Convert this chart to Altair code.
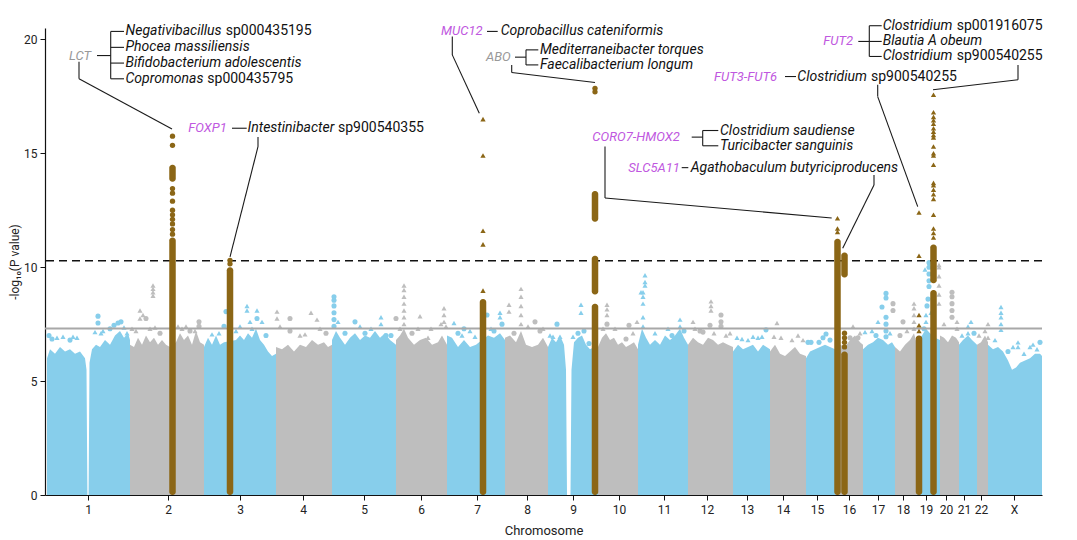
import altair as alt
import pandas as pd

# ---------------- data ----------------
CHROMS = ["1", "2", "3", "4", "5", "6", "7", "8", "9", "10", "11", "12",
          "13", "14", "15", "16", "17", "18", "19", "20", "21", "22", "X"]
# chromosome centre positions (cumulative genome position units)
TICK_POS = [88, 168, 240, 303, 364, 421, 477, 527, 573, 619, 664, 707,
            747, 783, 817, 849, 878, 903, 926, 946, 964, 981, 1014]

# upper edge of the dense cloud of SNPs per chromosome: (position, -log10 P)
bulk_1 = [(47, 6.0), (50, 6.4), (55, 6.2), (60, 6.5), (65, 6.3), (70, 6.4), (75, 6.2), (80, 6.3), (85, 6.0),
          (86.5, 5.5), (87.4, 0), (88.6, 0), (89.5, 5.8), (92, 6.4), (96, 6.6), (100, 6.5), (105, 6.8),
          (110, 6.6), (115, 7.0), (120, 7.2), (124, 6.9), (128, 7.1), (130, 6.8)]
bulk_2 = [(130, 6.6), (134, 6.5), (138, 6.9), (142, 6.6), (146, 7.0), (150, 6.7), (154, 6.9), (158, 6.6),
          (162, 6.8), (166, 6.6), (170, 6.5), (176, 6.7), (180, 7.1), (184, 6.8), (188, 7.0), (192, 6.6),
          (196, 7.2), (200, 6.7), (204, 6.6)]
bulk_3 = [(204, 6.5), (208, 6.9), (212, 6.6), (216, 7.0), (220, 6.6), (224, 6.7), (236, 6.8), (240, 7.0),
          (244, 6.8), (248, 7.1), (252, 6.9), (256, 7.3), (260, 6.8), (264, 6.6), (268, 6.3), (272, 6.1), (276, 6.2)]
bulk_4 = [(276, 6.5), (282, 6.4), (288, 6.6), (294, 6.3), (300, 6.6), (306, 6.5), (312, 6.8), (318, 6.6),
          (324, 6.7), (328, 6.5), (332, 6.6)]
bulk_5 = [(332, 6.8), (336, 7.2), (340, 6.9), (345, 6.6), (350, 6.9), (355, 7.1), (360, 6.8), (365, 7.0),
          (370, 6.9), (375, 7.2), (380, 6.9), (385, 7.1), (390, 6.8), (396, 6.6)]
bulk_6 = [(396, 6.8), (400, 7.0), (404, 7.3), (408, 6.9), (414, 6.6), (420, 6.8), (426, 6.9), (432, 6.6),
          (438, 6.7), (442, 7.0), (447, 6.6)]
bulk_7 = [(447, 7.0), (452, 6.9), (458, 6.5), (464, 6.8), (470, 6.5), (476, 6.6), (482, 6.8), (488, 7.0),
          (494, 6.9), (500, 7.1), (505, 6.8)]
bulk_8 = [(505, 6.9), (510, 7.0), (516, 6.7), (521, 7.2), (526, 6.6), (532, 6.5), (538, 6.6), (543, 6.9), (548, 6.5)]
bulk_9 = [(548, 6.5), (552, 6.9), (556, 6.7), (560, 7.0), (564, 6.6), (566, 5.5), (567, 0), (570.5, 0),
          (571.5, 5.5), (574, 6.7), (578, 6.9), (582, 7.0), (586, 6.6), (590, 6.4), (594, 6.5), (598, 6.5)]
bulk_10 = [(598, 6.5), (602, 6.9), (606, 7.1), (610, 6.8), (614, 6.9), (618, 6.6), (622, 6.7), (626, 6.5),
           (630, 6.6), (634, 6.7), (638, 6.4)]
bulk_11 = [(638, 6.6), (642, 7.3), (646, 6.9), (650, 6.6), (655, 6.8), (660, 6.6), (665, 7.0), (670, 6.8),
           (675, 7.0), (680, 7.3), (684, 6.9), (688, 6.6)]
bulk_12 = [(688, 6.6), (693, 6.9), (698, 6.7), (703, 6.6), (708, 6.9), (713, 6.8), (718, 6.6), (723, 6.7),
           (728, 6.6), (733, 6.5)]
bulk_13 = [(733, 6.3), (738, 6.6), (743, 6.4), (748, 6.5), (753, 6.6), (758, 6.3), (763, 6.6), (770, 6.4)]
bulk_14 = [(770, 6.3), (775, 6.6), (780, 6.2), (785, 6.1), (790, 6.3), (795, 6.5), (800, 6.2), (806, 6.1)]
bulk_15 = [(806, 6.0), (810, 6.3), (815, 6.4), (820, 6.5), (825, 6.6), (830, 6.5), (835, 6.4)]
bulk_16 = [(835, 6.5), (840, 6.6), (845, 6.5), (850, 6.8), (855, 7.0), (860, 6.7), (863, 6.6)]
bulk_17 = [(863, 6.4), (868, 6.6), (873, 6.7), (878, 6.9), (883, 6.8), (888, 6.6), (892, 6.7), (895, 6.5)]
bulk_18 = [(895, 6.5), (900, 6.3), (905, 6.6), (910, 6.8), (914, 7.1), (917, 6.6)]
bulk_19 = [(917, 6.8), (922, 7.0), (926, 7.3), (930, 7.1), (935, 6.9), (940, 6.8)]
bulk_20 = [(940, 7.0), (944, 6.9), (948, 6.7), (952, 7.0), (956, 6.9), (959, 6.7)]
bulk_21 = [(959, 6.6), (963, 6.8), (968, 7.0), (972, 6.8), (977, 6.6)]
bulk_22 = [(977, 6.6), (981, 6.7), (985, 7.0), (988, 6.7)]
bulk_X = [(988, 6.6), (993, 6.4), (998, 6.5), (1003, 6.3), (1008, 5.9), (1012, 5.5), (1016, 5.6), (1020, 5.8),
          (1025, 5.9), (1030, 6.0), (1035, 6.2), (1040, 6.2), (1042, 6.1)]
BULK = [bulk_1, bulk_2, bulk_3, bulk_4, bulk_5, bulk_6, bulk_7, bulk_8, bulk_9, bulk_10, bulk_11, bulk_12,
        bulk_13, bulk_14, bulk_15, bulk_16, bulk_17, bulk_18, bulk_19, bulk_20, bulk_21, bulk_22, bulk_X]

# individual SNPs above the dense cloud: (position, -log10 P, shape c=circle t=triangle)
pts_1 = [(49, 7.0, "c"), (52, 6.85, "c"), (57, 6.9, "t"), (63, 6.95, "t"), (70, 6.8, "c"), (73, 6.95, "t"),
         (77, 6.9, "t"), (95, 7.15, "t"), (98, 7.55, "c"), (98, 7.85, "c"), (101, 7.1, "t"), (103, 7.2, "t"),
         (110, 7.3, "c"), (114, 7.45, "c"), (118, 7.55, "c"), (121, 7.6, "c"), (124, 7.35, "t"), (127, 7.1, "t")]
pts_2 = [(132, 7.3, "t"), (136, 7.2, "t"), (140, 7.75, "t"), (140, 8.1, "t"), (143, 7.9, "t"), (146, 7.75, "c"),
         (150, 7.3, "t"), (153, 8.75, "t"), (153, 8.9, "t"), (153, 9.05, "t"), (153, 9.2, "t"), (155, 7.35, "t"),
         (160, 7.1, "c"), (178, 7.4, "t"), (182, 7.3, "t"), (186, 7.4, "t"), (190, 7.2, "c"), (199, 7.4, "c"),
         (199, 7.6, "c"), (195, 7.2, "t")]
pts_3 = [(212, 7.05, "t"), (219, 7.1, "t"), (224, 7.4, "c"), (226, 8.05, "c"), (236, 7.2, "t"), (240, 7.4, "t"),
         (247, 8.1, "t"), (247, 8.3, "t"), (250, 7.6, "t"), (252, 7.3, "t"), (257, 7.75, "c"), (257, 8.1, "t"),
         (262, 7.6, "t"), (266, 7.0, "c")]
pts_4 = [(277, 7.75, "t"), (277, 8.05, "t"), (280, 7.4, "t"), (290, 7.2, "c"), (290, 7.75, "c"), (300, 7.0, "t"),
         (305, 7.05, "t"), (311, 8.0, "t"), (317, 7.7, "t"), (320, 7.3, "t"), (326, 7.1, "c")]
pts_5 = [(334, 7.4, "c"), (334, 7.7, "c"), (334, 8.0, "c"), (334, 8.3, "c"), (334, 8.55, "c"), (334, 8.7, "c"),
         (338, 7.6, "t"), (345, 7.1, "c"), (355, 7.6, "c"), (360, 7.4, "t"), (365, 7.1, "c"), (371, 7.3, "t"),
         (381, 7.8, "t"), (381, 7.5, "t"), (386, 7.0, "c"), (391, 7.0, "c")]
pts_6 = [(396, 7.75, "c"), (400, 7.3, "t"), (404, 7.5, "t"), (404, 7.8, "t"), (404, 8.1, "t"), (404, 8.4, "t"),
         (404, 8.7, "t"), (404, 9.0, "t"), (404, 9.2, "t"), (412, 7.1, "c"), (418, 7.3, "t"), (420, 7.85, "t"),
         (428, 6.9, "t"), (431, 7.3, "t"), (441, 7.5, "t"), (444, 7.6, "t"), (444, 7.9, "t"), (444, 8.2, "t"),
         (446, 7.4, "t")]
pts_7 = [(454, 7.55, "t"), (458, 7.1, "c"), (462, 7.0, "t"), (464, 7.3, "c"), (470, 7.2, "t"), (475, 6.95, "t"),
         (487, 7.9, "c"), (491, 7.3, "t"), (494, 7.2, "c"), (500, 7.8, "t"), (500, 8.0, "t"), (502, 7.5, "c")]
pts_8 = [(509, 8.05, "t"), (509, 8.35, "t"), (514, 7.1, "c"), (521, 7.5, "t"), (521, 7.9, "t"), (521, 8.3, "t"),
         (521, 8.7, "t"), (521, 9.05, "t"), (528, 7.4, "t"), (535, 7.6, "c"), (540, 7.2, "c"), (543, 7.3, "t")]
pts_9 = [(550, 7.0, "t"), (553, 6.95, "t"), (557, 7.5, "c"), (560, 6.95, "t"), (573, 6.95, "t"), (578, 7.1, "c"),
         (581, 8.0, "t"), (581, 8.35, "t"), (584, 7.2, "c"), (589, 6.65, "c")]
pts_10 = [(603, 7.3, "t"), (607, 7.5, "c"), (607, 7.9, "t"), (607, 8.15, "t"), (607, 8.35, "t"), (615, 7.3, "t"),
          (626, 6.85, "c"), (629, 7.45, "c"), (633, 7.1, "t"), (637, 7.6, "t")]
pts_11 = [(643, 7.4, "t"), (643, 7.8, "t"), (643, 8.4, "t"), (643, 8.7, "t"), (643, 8.9, "t"), (645, 9.2, "t"),
          (645, 9.35, "t"), (645, 9.65, "t"), (641, 8.9, "t"), (655, 7.1, "t"), (668, 7.3, "t"), (672, 7.0, "c"),
          (680, 7.4, "t"), (680, 7.7, "t"), (684, 7.2, "c")]
pts_12 = [(693, 7.6, "t"), (695, 7.3, "t"), (700, 7.2, "c"), (703, 7.15, "c"), (710, 7.45, "c"), (711, 8.1, "t"),
          (711, 8.3, "t"), (711, 8.5, "t"), (714, 7.1, "t"), (721, 7.4, "c"), (721, 7.6, "c"), (721, 7.9, "c"),
          (726, 7.0, "t"), (730, 7.1, "t")]
pts_13 = [(737, 6.9, "t"), (742, 6.85, "t"), (748, 6.8, "t"), (753, 6.95, "t"), (758, 6.9, "t"), (762, 6.95, "t"),
          (766, 7.25, "c")]
pts_14 = [(774, 6.95, "t"), (777, 7.55, "t"), (781, 6.9, "t"), (792, 6.8, "t"), (798, 7.0, "t"), (803, 6.8, "t")]
pts_15 = [(808, 6.7, "c"), (811, 6.7, "c"), (819, 6.7, "c"), (823, 6.9, "c"), (826, 7.07, "c"), (830, 6.8, "c")]
pts_16 = [(850, 6.9, "c"), (853, 7.4, "t"), (858, 6.9, "c"), (860, 7.1, "t")]
pts_17 = [(865, 7.15, "t"), (872, 7.2, "t"), (876, 7.0, "c"), (878, 7.6, "t"), (882, 8.25, "c"), (886, 6.95, "c"),
          (886, 7.2, "c"), (886, 7.5, "c"), (886, 7.8, "c"), (886, 8.65, "c"), (886, 8.85, "c"), (890, 7.1, "t")]
pts_18 = [(893, 8.1, "c"), (893, 8.4, "c"), (900, 7.0, "c"), (903, 7.6, "c"), (907, 7.2, "t"), (914, 7.3, "t"),
          (914, 7.6, "t"), (914, 7.9, "t"), (914, 8.2, "t"), (914, 8.4, "t")]
pts_19 = [(924, 7.3, "c"), (926, 7.6, "t"), (926, 7.9, "t"), (927, 8.3, "c"), (928, 8.6, "c"), (929, 9.15, "c"),
          (929, 9.4, "c"), (929, 9.7, "c"), (929, 10.0, "c"), (929, 10.2, "c"), (925, 9.9, "t"), (931, 8.0, "t")]
pts_20 = [(939, 8.4, "t"), (939, 8.8, "t"), (939, 9.2, "t"), (939, 9.6, "t"), (939, 10.0, "t"), (939, 10.1, "t"),
          (944, 7.5, "t"), (952, 7.8, "c"), (952, 8.1, "c"), (952, 8.4, "c"), (952, 8.7, "c"), (952, 8.9, "c"),
          (957, 7.3, "t"), (957, 7.6, "t")]
pts_21 = [(962, 7.0, "t"), (968, 7.1, "t"), (968, 7.4, "t"), (971, 7.6, "t"), (974, 7.1, "c")]
pts_22 = [(979, 7.0, "t"), (985, 7.2, "t"), (988, 7.5, "t"), (988, 6.9, "t")]
pts_X = [(1001, 7.25, "t"), (1001, 7.5, "t"), (1001, 7.8, "t"), (1001, 8.0, "t"), (1001, 8.25, "t"), (995, 6.8, "t"),
         (1008, 6.3, "c"), (1013, 6.5, "t"), (1018, 6.7, "t"), (1018, 6.5, "t"), (1024, 6.2, "t"), (1030, 6.5, "t"),
         (1033, 6.6, "t"), (1037, 6.4, "t"), (1040, 6.7, "c")]
PTS = [pts_1, pts_2, pts_3, pts_4, pts_5, pts_6, pts_7, pts_8, pts_9, pts_10, pts_11, pts_12,
       pts_13, pts_14, pts_15, pts_16, pts_17, pts_18, pts_19, pts_20, pts_21, pts_22, pts_X]

# associated loci (brown): dense runs of SNPs (centre, low, high) and separate SNPs
locus_runs = [(172.5, 0, 11.3), (172.5, 13.75, 14.5),
              (230, 0, 10.0),
              (483, 0, 8.6),
              (595, 0, 8.4), (595, 8.8, 10.5), (595, 12.0, 13.35),
              (837.5, 0, 11.25),
              (844.5, 0, 6.3), (844.5, 9.55, 10.65),
              (919, 0, 7.0),
              (933.5, 0, 9.0), (933.5, 9.3, 11.0)]
locus_lct = [(172.5, v, "c") for v in [15.75, 15.35, 13.45, 13.25, 12.9, 12.5, 12.3, 12.1, 11.9, 11.65, 11.45]]
locus_foxp1 = [(230, v, "c") for v in [10.3, 10.15]]
locus_muc12 = [(483, v, "t") for v in [16.5, 14.9, 11.6, 11.0, 8.97]]
locus_abo = [(595, v, "c") for v in [17.85, 17.7]]
locus_coro7 = [(837.5, v, "t") for v in [12.15, 11.7, 11.55]]
locus_slc5a11 = [(844.5, v, "c") for v in [7.1, 6.9, 6.7, 6.5]]
locus_fut3 = [(919, v, "t") for v in [12.4, 10.5, 7.9, 7.45, 7.2]]
locus_fut2 = [(933.5, v, "t") for v in [17.57, 16.8, 16.6, 16.45, 16.3, 16.1, 15.95, 15.8, 15.7, 15.3, 15.0,
                                       14.9, 14.5, 13.7, 13.6, 13.4, 13.2, 13.0, 12.3, 11.7, 11.5, 11.3]]

SUGGESTIVE = 7.31   # genome-wide significance
STUDY_WIDE = 10.28  # study-wide significance

# gene labels: (position, -log10 P, text, colour key)
ann_genes = [
    (69, 19.29, "LCT", "g"),
    (188.3, 16.10, "FOXP1", "p"),
    (441, 20.35, "MUC12", "p"),
    (486, 19.22, "ABO", "g"),
    (823.3, 19.91, "FUT2", "p"),
    (714, 18.37, "FUT3-FUT6", "p"),
    (592.3, 15.71, "CORO7-HMOX2", "p"),
    (628.3, 14.37, "SLC5A11", "p"),
]
# taxon names, italic part: (position, -log10 P, text)
ann_taxa = [
    (125.5, 20.35, "Negativibacillus"),
    (125.5, 19.65, "Phocea massiliensis"),
    (125.5, 18.96, "Bifidobacterium adolescentis"),
    (125.5, 18.27, "Copromonas"),
    (247.5, 16.10, "Intestinibacter"),
    (500.7, 20.35, "Coprobacillus cateniformis"),
    (540, 19.54, "Mediterraneibacter torques"),
    (540, 18.88, "Faecalibacterium longum"),
    (882.7, 20.60, "Clostridium"),
    (882.7, 19.91, "Blautia A obeum"),
    (882.7, 19.25, "Clostridium"),
    (797.3, 18.37, "Clostridium"),
    (720, 16.00, "Clostridium saudiense"),
    (720, 15.33, "Turicibacter sanguinis"),
    (690.7, 14.37, "Agathobaculum butyriciproducens"),
]
# taxon names, upright part
ann_upright = [
    (225.7, 20.35, "sp000435195"),
    (207.3, 18.27, "sp000435795"),
    (338, 16.10, "sp900540355"),
    (956.7, 20.60, "sp001916075"),
    (956.7, 19.25, "sp900540255"),
    (871, 18.37, "sp900540255"),
]
# connector segments: (x1, y1, x2, y2)
connectors = [
    # LCT
    (97, 19.29, 110.7, 19.29), (110.7, 20.35, 110.7, 18.27),
    (110.7, 20.35, 124, 20.35), (110.7, 19.65, 124, 19.65), (110.7, 18.96, 124, 18.96), (110.7, 18.27, 124, 18.27),
    (79, 19.02, 79, 18.27), (79, 18.27, 172, 16.07),
    # FOXP1
    (232, 16.10, 246.7, 16.10), (258, 15.72, 258, 15.29), (258, 15.29, 230, 10.45),
    # MUC12
    (487, 20.35, 497.7, 20.35), (452.3, 20.13, 452.3, 19.32), (452.3, 19.32, 479.3, 16.76),
    # ABO
    (515, 19.22, 526, 19.22), (526, 19.54, 526, 18.88), (526, 19.54, 538.3, 19.54), (526, 18.88, 538.3, 18.88),
    (511.7, 18.88, 511.7, 18.55), (511.7, 18.55, 595, 18.11),
    # FUT2
    (858.3, 19.91, 869.3, 19.91), (869.3, 20.60, 869.3, 19.25), (869.3, 20.60, 881.7, 20.60),
    (869.3, 19.91, 881.7, 19.91), (869.3, 19.25, 881.7, 19.25),
    (1018, 18.88, 1018, 18.23), (1018, 18.23, 933, 17.79),
    # FUT3-FUT6
    (785, 18.37, 796, 18.37), (877.7, 18.01, 877.7, 17.49), (877.7, 17.49, 917.7, 12.66),
    # CORO7-HMOX2
    (691.7, 15.71, 702.7, 15.71), (702.7, 16.00, 702.7, 15.33), (702.7, 16.00, 718.3, 16.00),
    (702.7, 15.33, 718.3, 15.33), (605, 15.30, 605, 13.04), (605, 13.04, 831.7, 12.16),
    # SLC5A11
    (681.7, 14.37, 688.3, 14.37), (874, 14.05, 874, 13.61), (874, 13.61, 842.7, 10.83),
]

# ---------------- styling ----------------
BLUE = "#87CEEB"
GREY = "#BEBEBE"
BROWN = "#8B6616"
PURPLE = "#C058E0"
TEXT_COLS = {"k": "#111111", "g": "#999999", "p": PURPLE}
FONT = "Roboto"
TAXON_SIZE = 14
GENE_SIZE = 13

bulk_rows, pt_rows = [], []
for i, c in enumerate(CHROMS):
    col = BLUE if i % 2 == 0 else GREY
    for p, v in BULK[i]:
        bulk_rows.append(dict(chrom=c, pos=p, val=v, col=col))
    for p, v, s in PTS[i]:
        pt_rows.append(dict(chrom=c, pos=p, val=v, shape=s, col=col))
bulk_df = pd.DataFrame(bulk_rows)
pt_df = pd.DataFrame(pt_rows)

RUN_HALF = 3.25
runs_df = pd.DataFrame([dict(x1=c - RUN_HALF, x2=c + RUN_HALF, lo=lo, hi=hi) for c, lo, hi in locus_runs])
brown_pts = locus_lct + locus_foxp1 + locus_muc12 + locus_abo + locus_coro7 + locus_slc5a11 + locus_fut3 + locus_fut2
brown_df = pd.DataFrame([dict(pos=p, val=v, shape=s) for p, v, s in brown_pts])

gene_df = pd.DataFrame([dict(pos=p, val=v, text=t, col=TEXT_COLS[k]) for p, v, t, k in ann_genes])
taxa_df = pd.DataFrame([dict(pos=p, val=v, text=t) for p, v, t in ann_taxa])
up_df = pd.DataFrame([dict(pos=p, val=v, text=t) for p, v, t in ann_upright])
seg_df = pd.DataFrame([dict(x1=a, y1=b, x2=c, y2=d) for a, b, c, d in connectors])

label_expr = ("[" + ",".join(f"'{c}'" for c in CHROMS) + "][indexof(["
              + ",".join(str(p) for p in TICK_POS) + "], datum.value)]")

xs = alt.Scale(domain=[45, 1042], nice=False, zero=False)
ys = alt.Scale(domain=[0, 20.5], nice=False, zero=True)
x_axis = alt.Axis(values=TICK_POS, labelExpr=label_expr, title="Chromosome", grid=False,
                  tickSize=5, labelPadding=4, titlePadding=9)
y_axis = alt.Axis(values=[0, 5, 10, 15, 20], title="-log\u2081\u2080(P value)", grid=False,
                  tickSize=5, labelPadding=3, titlePadding=2, titleFontSize=12)


def X(field):
    return alt.X(field, type="quantitative", scale=xs, axis=x_axis)


def Y(field):
    return alt.Y(field, type="quantitative", scale=ys, axis=y_axis)


shape_scale = alt.Scale(domain=["c", "t"], range=["circle", "triangle-up"])

bulk = alt.Chart(bulk_df).mark_area(interpolate="linear", opacity=1).encode(
    x=X("pos"), y=Y("val"), y2=alt.datum(0),
    color=alt.Color("col:N", scale=None), detail="chrom:N")

scatter = alt.Chart(pt_df).mark_point(filled=True, opacity=1, size=26).encode(
    x=X("pos"), y=Y("val"),
    color=alt.Color("col:N", scale=None),
    shape=alt.Shape("shape:N", scale=shape_scale, legend=None))

thr_df = pd.DataFrame({"val": [SUGGESTIVE, STUDY_WIDE], "kind": ["gw", "sw"]})
line_gw = alt.Chart(thr_df[thr_df.kind == "gw"]).mark_rule(color="#A8A8A8", strokeWidth=2).encode(y=Y("val"))
line_sw = alt.Chart(thr_df[thr_df.kind == "sw"]).mark_rule(color="#111111", strokeWidth=1.4,
                                                           strokeDash=[8, 5]).encode(y=Y("val"))

runs = alt.Chart(runs_df).mark_rect(color=BROWN, cornerRadius=3).encode(
    x=X("x1"), x2="x2", y=Y("lo"), y2="hi")
brown = alt.Chart(brown_df).mark_point(filled=True, opacity=1, size=28, color=BROWN).encode(
    x=X("pos"), y=Y("val"),
    shape=alt.Shape("shape:N", scale=shape_scale, legend=None))

segs = alt.Chart(seg_df).mark_rule(color="#1a1a1a", strokeWidth=1.1).encode(
    x=X("x1"), y=Y("y1"), x2="x2", y2="y2")
genes = alt.Chart(gene_df).mark_text(align="left", baseline="middle", font=FONT, fontSize=GENE_SIZE,
                                     fontStyle="italic").encode(
    x=X("pos"), y=Y("val"), text="text:N", color=alt.Color("col:N", scale=None))
taxa = alt.Chart(taxa_df).mark_text(align="left", baseline="middle", font=FONT, fontSize=TAXON_SIZE,
                                    fontStyle="italic", color="#111111").encode(
    x=X("pos"), y=Y("val"), text="text:N")
upright = alt.Chart(up_df).mark_text(align="left", baseline="middle", font=FONT, fontSize=TAXON_SIZE,
                                     color="#111111").encode(
    x=X("pos"), y=Y("val"), text="text:N")

chart = alt.layer(bulk, scatter, line_gw, line_sw, runs, brown, segs, genes, taxa, upright).properties(
    width=997, height=467,
    autosize=alt.AutoSizeParams(type="none"),
    padding={"left": 37, "top": 20, "right": 27, "bottom": 44},
).configure_view(stroke=None).configure_axis(
    domainColor="#111111", tickColor="#111111", labelColor="#222222", titleColor="#222222",
    labelFont=FONT, titleFont=FONT, labelFontSize=12, titleFontSize=13, titleFontWeight="normal",
    domainWidth=1.2,
)

chart.save("out.html", embed_options={"renderer": "svg", "actions": False})
